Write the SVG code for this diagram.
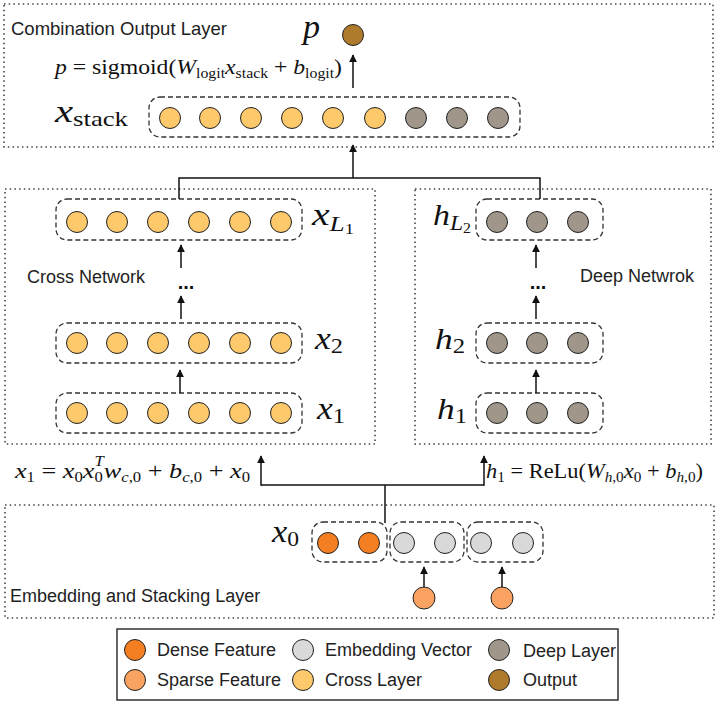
<svg xmlns="http://www.w3.org/2000/svg" width="716" height="705" viewBox="0 0 716 705">
<defs>
<style>
.lay{fill:none;stroke:#444;stroke-width:1.6;stroke-dasharray:1.5 3.2}
.grp{fill:none;stroke:#333;stroke-width:1.3;stroke-dasharray:5 3}
circle{stroke:#222;stroke-width:1}
.cross{fill:#FDC96B}.deep{fill:#A0968A}.emb{fill:#D9D9D9}.dense{fill:#F47F22}.sparse{fill:#F9A261}.out{fill:#AE7B2C}
.lbl{font-family:"Liberation Sans",Arial,sans-serif;font-size:18px;fill:#222}
.m{font-family:"Liberation Serif","DejaVu Serif",serif;fill:#111}
.i{font-style:italic}
.cn{fill:none;stroke:#111;stroke-width:1.5}
.dots{font-family:"Liberation Sans",Arial,sans-serif;font-size:20px;font-weight:bold;fill:#111}
</style>
<marker id="ah" viewBox="0 0 10 10" refX="9" refY="5" markerWidth="8" markerHeight="8" markerUnits="userSpaceOnUse" orient="auto">
<path d="M0,0 L10,5 L0,10 z" fill="#111"/>
</marker>
</defs>
<rect width="716" height="705" fill="#fff"/>

<g id="combination-layer">
<rect class="lay" x="4" y="4" width="709" height="143"/>
<text class="lbl" x="11" y="34.5" style="font-size:18.5px">Combination Output Layer</text>
<text class="m" x="55" y="74" font-size="21" textLength="287" lengthAdjust="spacingAndGlyphs"><tspan class="i">p</tspan> = sigmoid(<tspan class="i">W</tspan><tspan font-size="14" dy="4">logit</tspan><tspan class="i" dy="-4">x</tspan><tspan font-size="14" dy="4">stack</tspan><tspan dy="-4"> + </tspan><tspan class="i">b</tspan><tspan font-size="14" dy="4">logit</tspan><tspan dy="-4">)</tspan></text>
</g>
<g id="output">
<text class="m i" x="303" y="38" font-size="34">p</text>
<circle class="out" cx="353" cy="35" r="10.5"/>
</g>
<g id="x-stack">
<text class="m" x="55" y="122" textLength="73" lengthAdjust="spacingAndGlyphs"><tspan class="i" font-size="32">x</tspan><tspan font-size="21" dy="4">stack</tspan></text>
<rect class="grp" x="149" y="97" width="371" height="40" rx="11"/>
<circle class="cross" cx="170" cy="118" r="10.5"/>
<circle class="cross" cx="210" cy="118" r="10.5"/>
<circle class="cross" cx="251" cy="118" r="10.5"/>
<circle class="cross" cx="292" cy="118" r="10.5"/>
<circle class="cross" cx="333" cy="118" r="10.5"/>
<circle class="cross" cx="375" cy="118" r="10.5"/>
<circle class="deep" cx="416" cy="118" r="10.5"/>
<circle class="deep" cx="457" cy="118" r="10.5"/>
<circle class="deep" cx="498" cy="118" r="10.5"/>
</g>

<g id="cross-network">
<rect class="lay" x="5" y="189" width="370" height="255"/>
<text class="lbl" x="27" y="283">Cross Network</text>
<text class="dots" x="186" y="289" text-anchor="middle">...</text>
</g>
<g id="x-L1">
<rect class="grp" x="56" y="199" width="246" height="41" rx="11"/>
<circle class="cross" cx="77" cy="222" r="10.5"/>
<circle class="cross" cx="117" cy="222" r="10.5"/>
<circle class="cross" cx="158" cy="222" r="10.5"/>
<circle class="cross" cx="199" cy="222" r="10.5"/>
<circle class="cross" cx="240" cy="222" r="10.5"/>
<circle class="cross" cx="281" cy="222" r="10.5"/>
<text class="m" x="312" y="225" textLength="42" lengthAdjust="spacingAndGlyphs"><tspan class="i" font-size="32">x</tspan><tspan class="i" font-size="22" dy="6">L</tspan><tspan font-size="15" dy="3">1</tspan></text>
</g>
<g id="x-2">
<rect class="grp" x="56" y="323" width="246" height="40" rx="11"/>
<circle class="cross" cx="77" cy="343" r="10.5"/>
<circle class="cross" cx="117" cy="343" r="10.5"/>
<circle class="cross" cx="158" cy="343" r="10.5"/>
<circle class="cross" cx="199" cy="343" r="10.5"/>
<circle class="cross" cx="240" cy="343" r="10.5"/>
<circle class="cross" cx="281" cy="343" r="10.5"/>
<text class="m" x="315" y="349" textLength="28" lengthAdjust="spacingAndGlyphs"><tspan class="i" font-size="32">x</tspan><tspan font-size="22" dy="4">2</tspan></text>
</g>
<g id="x-1">
<rect class="grp" x="56" y="393" width="246" height="40" rx="11"/>
<circle class="cross" cx="77" cy="413" r="10.5"/>
<circle class="cross" cx="117" cy="413" r="10.5"/>
<circle class="cross" cx="158" cy="413" r="10.5"/>
<circle class="cross" cx="199" cy="413" r="10.5"/>
<circle class="cross" cx="240" cy="413" r="10.5"/>
<circle class="cross" cx="281" cy="413" r="10.5"/>
<text class="m" x="317" y="419" textLength="28" lengthAdjust="spacingAndGlyphs"><tspan class="i" font-size="32">x</tspan><tspan font-size="22" dy="4">1</tspan></text>
</g>

<g id="deep-network">
<rect class="lay" x="415" y="189" width="296" height="255"/>
<text class="lbl" x="580" y="282">Deep Netwrok</text>
<text class="dots" x="538" y="289" text-anchor="middle">...</text>
</g>
<g id="h-L2">
<rect class="grp" x="476" y="199" width="127" height="41" rx="11"/>
<circle class="deep" cx="497" cy="222" r="10.5"/>
<circle class="deep" cx="537" cy="222" r="10.5"/>
<circle class="deep" cx="578" cy="222" r="10.5"/>
<text class="m" x="433" y="225" textLength="38" lengthAdjust="spacingAndGlyphs"><tspan class="i" font-size="30">h</tspan><tspan class="i" font-size="21" dy="5">L</tspan><tspan font-size="14" dy="3">2</tspan></text>
</g>
<g id="h-2">
<rect class="grp" x="476" y="323" width="127" height="40" rx="11"/>
<circle class="deep" cx="497" cy="343" r="10.5"/>
<circle class="deep" cx="537" cy="343" r="10.5"/>
<circle class="deep" cx="578" cy="343" r="10.5"/>
<text class="m" x="435" y="349" textLength="30" lengthAdjust="spacingAndGlyphs"><tspan class="i" font-size="30">h</tspan><tspan font-size="21" dy="4">2</tspan></text>
</g>
<g id="h-1">
<rect class="grp" x="476" y="393" width="127" height="40" rx="11"/>
<circle class="deep" cx="497" cy="413" r="10.5"/>
<circle class="deep" cx="537" cy="413" r="10.5"/>
<circle class="deep" cx="578" cy="413" r="10.5"/>
<text class="m" x="437" y="419" textLength="30" lengthAdjust="spacingAndGlyphs"><tspan class="i" font-size="30">h</tspan><tspan font-size="21" dy="4">1</tspan></text>
</g>

<g id="formula-cross">
<text class="m" x="15" y="478" font-size="22" textLength="235" lengthAdjust="spacingAndGlyphs"><tspan class="i">x</tspan><tspan font-size="14" dy="4">1</tspan><tspan dy="-4"> = </tspan><tspan class="i">x</tspan><tspan font-size="14" dy="4">0</tspan><tspan class="i" dy="-4">x</tspan><tspan font-size="14" dy="4">0</tspan><tspan class="i" font-size="14" dx="-7" dy="-16">T</tspan><tspan class="i" dy="12">w</tspan><tspan class="i" font-size="14" dy="4">c</tspan><tspan font-size="14">,0</tspan><tspan dy="-4"> + </tspan><tspan class="i">b</tspan><tspan class="i" font-size="14" dy="4">c</tspan><tspan font-size="14">,0</tspan><tspan dy="-4"> + </tspan><tspan class="i">x</tspan><tspan font-size="14" dy="4">0</tspan></text>
</g>
<g id="formula-deep">
<text class="m" x="486" y="478" font-size="22" textLength="217" lengthAdjust="spacingAndGlyphs"><tspan class="i">h</tspan><tspan font-size="15" dy="4">1</tspan><tspan dy="-4"> = ReLu(</tspan><tspan class="i">W</tspan><tspan class="i" font-size="15" dy="4">h</tspan><tspan font-size="15">,0</tspan><tspan class="i" dy="-4">x</tspan><tspan font-size="15" dy="4">0</tspan><tspan dy="-4"> + </tspan><tspan class="i">b</tspan><tspan class="i" font-size="15" dy="4">h</tspan><tspan font-size="15">,0</tspan><tspan dy="-4">)</tspan></text>
</g>

<g id="embedding-layer">
<rect class="lay" x="5" y="505" width="709" height="113"/>
<text class="lbl" x="10" y="602">Embedding and Stacking Layer</text>
</g>
<g id="x-0">
<text class="m" x="272" y="542" textLength="27" lengthAdjust="spacingAndGlyphs"><tspan class="i" font-size="32">x</tspan><tspan font-size="22" dy="4">0</tspan></text>
<rect class="grp" x="312" y="522" width="75" height="40" rx="11"/>
<rect class="grp" x="390" y="522" width="74" height="40" rx="11"/>
<rect class="grp" x="467" y="522" width="76" height="40" rx="11"/>
<circle class="dense" cx="328" cy="543" r="10.5"/>
<circle class="dense" cx="369" cy="543" r="10.5"/>
<circle class="emb" cx="404" cy="543" r="10.5"/>
<circle class="emb" cx="445" cy="543" r="10.5"/>
<circle class="emb" cx="481" cy="543" r="10.5"/>
<circle class="emb" cx="523" cy="543" r="10.5"/>
</g>
<g id="sparse-1"><circle class="sparse" cx="424" cy="598" r="11"/></g>
<g id="sparse-2"><circle class="sparse" cx="502" cy="598" r="11"/></g>

<g id="connectors">
<line class="cn" x1="353" y1="88" x2="353" y2="55" marker-end="url(#ah)"/>
<line class="cn" x1="353" y1="178" x2="353" y2="145" marker-end="url(#ah)"/>
<polyline class="cn" points="179,199 179,178 540,178 540,199"/>
<line class="cn" x1="180" y1="393" x2="180" y2="370" marker-end="url(#ah)"/>
<line class="cn" x1="181" y1="319" x2="181" y2="296" marker-end="url(#ah)"/>
<line class="cn" x1="181" y1="268" x2="181" y2="245" marker-end="url(#ah)"/>
<line class="cn" x1="536" y1="393" x2="536" y2="370" marker-end="url(#ah)"/>
<line class="cn" x1="536" y1="319" x2="536" y2="296" marker-end="url(#ah)"/>
<line class="cn" x1="536" y1="268" x2="536" y2="245" marker-end="url(#ah)"/>
<polyline class="cn" points="385,523 385,485"/>
<polyline class="cn" points="261,485 484,485"/>
<line class="cn" x1="261" y1="485.7" x2="261" y2="456" marker-end="url(#ah)"/>
<line class="cn" x1="484" y1="485.7" x2="484" y2="456" marker-end="url(#ah)"/>
<line class="cn" x1="424" y1="587" x2="424" y2="567" marker-end="url(#ah)"/>
<line class="cn" x1="502" y1="587" x2="502" y2="567" marker-end="url(#ah)"/>
</g>

<g id="legend">
<rect x="117" y="629" width="501" height="71" fill="none" stroke="#333" stroke-width="1.5"/>
<circle class="dense" cx="135" cy="650" r="10.5"/>
<text class="lbl" x="157" y="656">Dense Feature</text>
<circle class="sparse" cx="135" cy="680" r="10.5"/>
<text class="lbl" x="157" y="686">Sparse Feature</text>
<circle class="emb" cx="303" cy="650" r="10.5"/>
<text class="lbl" x="325" y="656">Embedding Vector</text>
<circle class="cross" cx="303" cy="680" r="10.5"/>
<text class="lbl" x="325" y="686">Cross Layer</text>
<circle class="deep" cx="499" cy="650" r="10.5"/>
<text class="lbl" x="523" y="657">Deep Layer</text>
<circle class="out" cx="499" cy="680" r="10.5"/>
<text class="lbl" x="523" y="686">Output</text>
</g>
</svg>
